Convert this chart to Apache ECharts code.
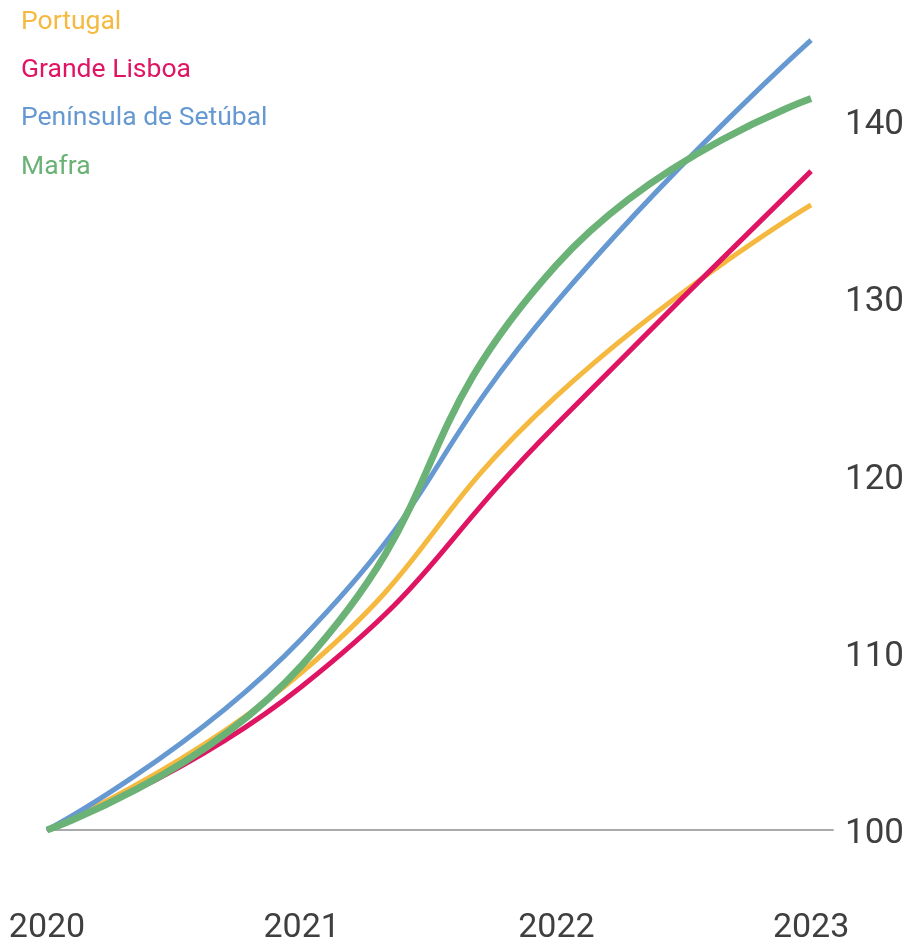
<!DOCTYPE html>
<html><head><meta charset="utf-8">
<script src="https://cdn.jsdelivr.net/npm/echarts@6/dist/echarts.min.js"></script>
<style>html,body{margin:0;padding:0;background:#fff}#c{width:910px;height:945px}</style>
</head><body><div id="c"></div>
<script>
var years = [2020, 2021, 2022, 2023];
var yTicks = [100, 110, 120, 130, 140];
var seriesNames = ['Portugal', 'Grande Lisboa', 'Península de Setúbal', 'Mafra'];
var portugal = [100, 108.9, 124.5, 135.3];
var grandeLisboa = [100, 108.1, 122.9, 137.2];
var setubal = [100, 110.8, 129.8, 144.6];
var mafra = [100, 109.3, 131.9, 141.3];
var colors = ['#F6B93F', '#DF1563', '#6699D2', '#6AB275'];
var widths = [5, 5, 5, 7];

var values = [portugal, grandeLisboa, setubal, mafra];
function pairs(v){ return years.map(function(y,i){ return [y, v[i]]; }); }

var chart = echarts.init(document.getElementById('c'));
chart.setOption({
  animation: false,
  textStyle: { fontFamily: 'Roboto' },
  grid: { left: 47, right: 77, top: 33, bottom: 113, containLabel: false },
  legend: {
    orient: 'vertical', left: 16, top: 7, padding: 0,
    icon: 'none', itemWidth: 0, itemHeight: 0, itemGap: 18,
    selectedMode: false,
    data: seriesNames.map(function(n,i){ return { name: n, textStyle: { color: colors[i] } }; }),
    textStyle: { fontSize: 26.5, lineHeight: 30.3, fontFamily: 'Roboto' }
  },
  xAxis: {
    type: 'value', min: 2020, max: 2023.086, interval: 1,
    axisLine: { show: true, lineStyle: { color: '#aaaaaa', width: 2 } },
    axisTick: { show: false }, splitLine: { show: false },
    axisLabel: {
      margin: 81, fontSize: 34, color: '#3f3f3f', fontFamily: 'Roboto',
      showMaxLabel: false,
      formatter: function(v){ return years.indexOf(v) >= 0 ? String(v) : ''; }
    }
  },
  yAxis: {
    type: 'value', position: 'right', min: 100, max: 145, interval: 10,
    axisLine: { show: false }, axisTick: { show: false }, splitLine: { show: false },
    axisLabel: {
      margin: 12, fontSize: 35, color: '#3f3f3f', fontFamily: 'Roboto',
      verticalAlign: 'top', lineHeight: 8,
      formatter: function(v){ return yTicks.indexOf(v) >= 0 ? String(v) : ''; }
    }
  },
  series: seriesNames.map(function(n,i){
    return {
      name: n, type: 'line', smooth: true, symbol: 'none',
      data: pairs(values[i]),
      lineStyle: { color: colors[i], width: widths[i] },
      itemStyle: { color: colors[i] },
      z: 2 + i
    };
  })
});
</script></body></html>
